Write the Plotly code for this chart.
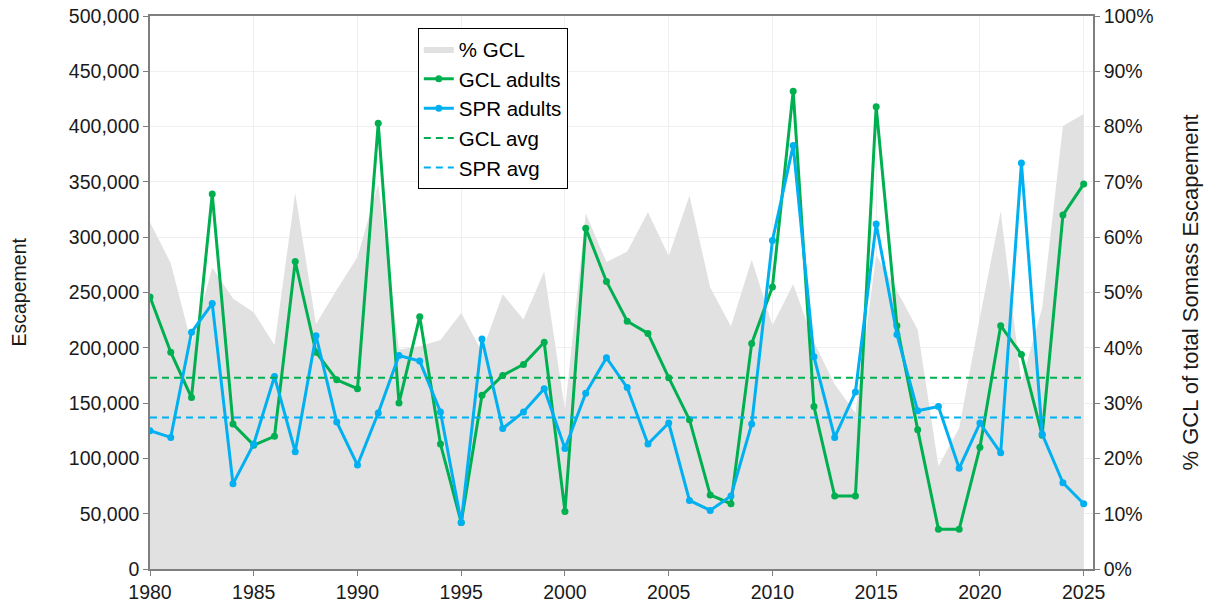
import plotly.graph_objects as go

years = list(range(1980, 2026))

gcl_adults = [246000, 196000, 155000, 339000, 131000, 112000, 120000, 278000, 196000, 171000,
              163000, 403000, 150000, 228000, 113000, 42000, 157000, 175000, 185000, 205000,
              52000, 308000, 260000, 224000, 213000, 173000, 135000, 67000, 59000, 204000,
              255000, 432000, 147000, 66000, 66000, 418000, 220000, 126000, 36000, 36000,
              110000, 220000, 194000, 121000, 320000, 348000]

spr_adults = [125000, 119000, 214000, 240000, 77000, 113000, 174000, 106000, 211000, 133000,
              94000, 141000, 193000, 188000, 142000, 42000, 208000, 127000, 142000, 163000,
              109000, 159000, 191000, 164000, 113000, 132000, 62000, 53000, 66000, 131000,
              297000, 383000, 192000, 119000, 160000, 312000, 212000, 143000, 147000, 91000,
              132000, 105000, 367000, 122000, 78000, 59000]

pct_gcl = [62.7, 55.3, 40.7, 54.5, 48.9, 46.4, 40.5, 68.0, 44.3, 50.5,
           56.4, 69.6, 39.7, 40.3, 41.4, 46.3, 39.3, 49.7, 45.1, 53.8,
           28.8, 64.3, 55.5, 57.4, 64.5, 56.6, 67.5, 50.9, 43.9, 55.9,
           44.1, 51.5, 41.0, 33.4, 28.2, 56.8, 50.3, 43.3, 18.6, 25.5,
           45.5, 64.7, 33.8, 47.2, 80.1, 82.3]

gcl_avg = 173000
spr_avg = 137000

green = "#00B050"
blue = "#00B0F0"
gray = "#E1E1E1"
axis_col = "#7F7F7F"
font_fam = "Arial, Liberation Sans, sans-serif"
tick_size = 19.5

fig = go.Figure()

fig.add_trace(go.Scatter(x=years, y=pct_gcl, name="% GCL", mode="lines",
                         line=dict(width=0, color=gray), fill="tozeroy",
                         fillcolor=gray, yaxis="y"))
fig.add_trace(go.Scatter(x=years, y=gcl_adults, name="GCL adults", mode="lines+markers",
                         line=dict(color=green, width=3), marker=dict(size=7, color=green),
                         yaxis="y2"))
fig.add_trace(go.Scatter(x=years, y=spr_adults, name="SPR adults", mode="lines+markers",
                         line=dict(color=blue, width=3), marker=dict(size=7, color=blue),
                         yaxis="y2"))
fig.add_trace(go.Scatter(x=[years[0], years[-1]], y=[gcl_avg, gcl_avg], name="GCL avg",
                         mode="lines", line=dict(color=green, width=2, dash="7px,5px"),
                         yaxis="y2"))
fig.add_trace(go.Scatter(x=[years[0], years[-1]], y=[spr_avg, spr_avg], name="SPR avg",
                         mode="lines", line=dict(color=blue, width=2, dash="7px,5px"),
                         yaxis="y2"))

fig.update_layout(
    width=1206, height=608,
    margin=dict(l=150, r=113, t=16, b=39, autoexpand=False),
    paper_bgcolor="white", plot_bgcolor="white",
    font=dict(family=font_fam, size=tick_size, color="#1a1a1a"),
    showlegend=True,
    legend=dict(x=0.284, y=0.978, xanchor="left", yanchor="top",
                bgcolor="white", bordercolor="black", borderwidth=1,
                font=dict(size=20.5, color="black"), tracegroupgap=0),
    xaxis=dict(range=[1980, 2025.45], dtick=5, tick0=1980, showgrid=True,
               gridcolor="#EFEFEF", gridwidth=1, zeroline=False, automargin=False,
               showline=True, linecolor=axis_col, linewidth=1.5, mirror=True,
               ticks="outside", ticklen=5, tickcolor=axis_col,
               tickfont=dict(size=tick_size)),
    yaxis=dict(range=[0, 100], dtick=10, side="right", ticksuffix="%",
               showgrid=True, gridcolor="#EFEFEF", gridwidth=1, zeroline=False,
               automargin=False,
               showline=True, linecolor=axis_col, linewidth=1.5,
               ticks="outside", ticklen=5, tickcolor=axis_col,
               tickfont=dict(size=tick_size)),
    yaxis2=dict(range=[0, 500000], dtick=50000, overlaying="y", side="left",
                tickformat=",", showgrid=False, zeroline=False, automargin=False,
                showline=True, linecolor=axis_col, linewidth=1.5,
                ticks="outside", ticklen=5, tickcolor=axis_col,
                tickfont=dict(size=tick_size)),
    annotations=[
        dict(text="Escapement", xref="paper", yref="paper",
             x=(18 - 150) / 943, y=0.5, xanchor="center", yanchor="middle",
             textangle=-90, showarrow=False, font=dict(size=19.5, color="#1a1a1a")),
        dict(text="% GCL of total Somass Escapement", xref="paper", yref="paper",
             x=(1190 - 150) / 943, y=0.5, xanchor="center", yanchor="middle",
             textangle=-90, showarrow=False, font=dict(size=22, color="#1a1a1a")),
    ],
)

fig.write_html("out.html")
